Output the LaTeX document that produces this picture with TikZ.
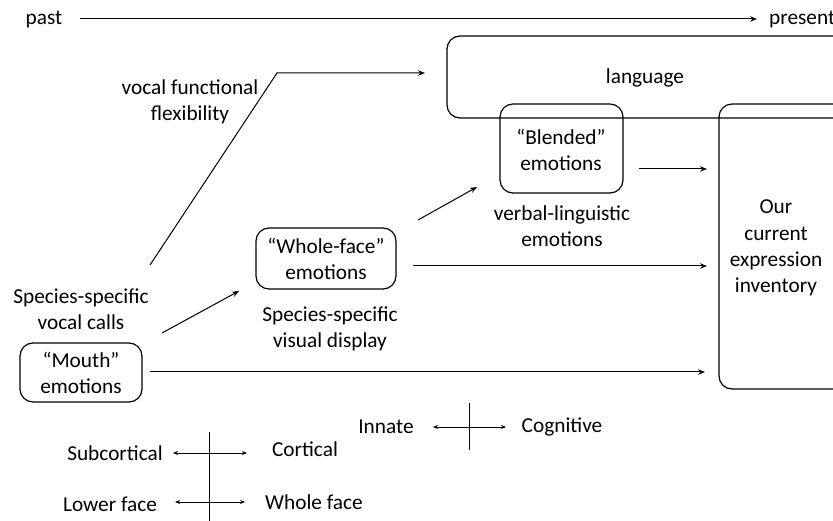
\documentclass[tikz,border=0pt]{standalone}
\usepackage{fontspec}
\setmainfont{Carlito}
\usetikzlibrary{arrows.meta}
\begin{document}
\begin{tikzpicture}[x=1pt,y=-1pt,
  every node/.style={font=\fontsize{21.3}{26.3}\selectfont, inner sep=0pt, align=center},
  box/.style={draw, line width=1.2pt, rounded corners=13pt},
  arr/.style={line width=1pt, -{Stealth[length=7pt,width=5.5pt]}},
  darr/.style={line width=1pt, {Stealth[length=5pt,width=4pt]}-{Stealth[length=5pt,width=4pt]}},
  ln/.style={line width=1pt}]
\useasboundingbox (0,0) rectangle (833,521);
\clip (0,0) rectangle (833,521);
% timeline
\node (past) at (44,19) {past};
\node[anchor=west] (present) at (769,19) {present};
\coordinate (t0) at (80,19);
\coordinate (t1) at (757,19);
\draw[arr] (t0) -- (t1);
% boxes
\draw[box] (447,36) rectangle (860,118);
\node (lang) at (645,78) {language};
\draw[box] (500,104) rectangle (623,193);
\node (blend) at (561,150) {“Blended”\\emotions};
\node (verb) at (562,226) {verbal-linguistic\\emotions};
\draw[box] (719,104) rectangle (860,389);
\node (inv) at (776,248) {Our\\current\\expression\\inventory};
\draw[box] (256,228) rectangle (396,289);
\node (whole) at (326,259) {“Whole-face”\\emotions};
\node (visual) at (330,329) {Species-specific\\visual display};
\draw[box] (20,343) rectangle (142,402);
\node (mouth) at (81,373) {“Mouth”\\emotions};
\node (vocal) at (81,309) {Species-specific\\vocal calls};
\node (flex) at (190,102) {vocal functional\\flexibility};
% arrows
\coordinate (f0) at (150,265);
\coordinate (f1) at (277,73);
\coordinate (f2) at (425,73);
\draw[arr] (f0) -- (f1) -- (f2);
\coordinate (b0) at (639,169);
\coordinate (b1) at (707,169);
\draw[arr] (b0) -- (b1);
\coordinate (w0) at (418,220);
\coordinate (w1) at (477,187);
\draw[arr] (w0) -- (w1);
\coordinate (w2) at (413,266);
\coordinate (w3) at (707,266);
\draw[arr] (w2) -- (w3);
\coordinate (m0) at (162,333);
\coordinate (m1) at (239,291);
\draw[arr] (m0) -- (m1);
\coordinate (m2) at (150,372);
\coordinate (m3) at (705,372);
\draw[arr] (m2) -- (m3);
% legend
\node (innate) at (386,427) {Innate};
\node (cog) at (562,427) {Cognitive};
\coordinate (i0) at (433,427);
\coordinate (i1) at (506,427);
\draw[darr] (i0) -- (i1);
\coordinate (iv0) at (469,403);
\coordinate (iv1) at (469,450);
\draw[ln] (iv0) -- (iv1);
\node (sub) at (115,453) {Subcortical};
\node (cort) at (305,449) {Cortical};
\coordinate (s0) at (173,453);
\coordinate (s1) at (247,453);
\draw[darr] (s0) -- (s1);
\node (low) at (110,504) {Lower face};
\node (wf) at (314,502) {Whole face};
\coordinate (l0) at (175,502);
\coordinate (l1) at (245,502);
\draw[darr] (l0) -- (l1);
\coordinate (sv0) at (209,432);
\coordinate (sv1) at (209,521);
\draw[ln] (sv0) -- (sv1);
\end{tikzpicture}
\end{document}
